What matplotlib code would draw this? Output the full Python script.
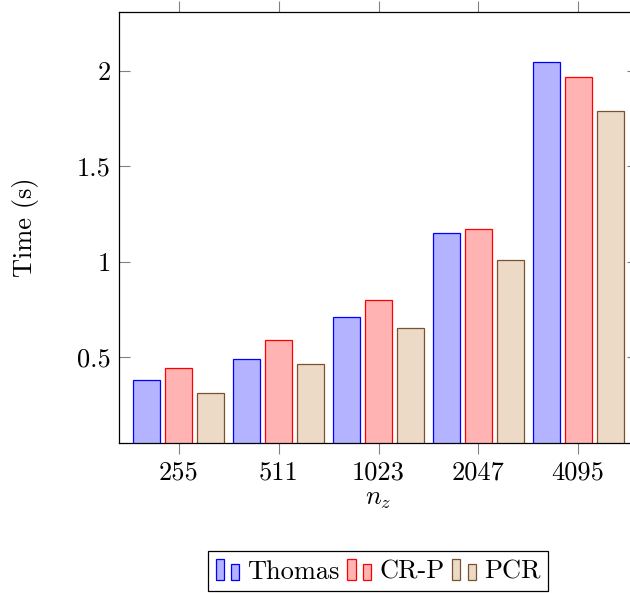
import numpy as np
import matplotlib
matplotlib.use("Agg")
import matplotlib.pyplot as plt
from matplotlib.patches import Rectangle
from matplotlib.legend_handler import HandlerBase

plt.rcParams['font.family'] = 'serif'
plt.rcParams['font.serif'] = ['cmr10', 'DejaVu Serif']
plt.rcParams['mathtext.fontset'] = 'cm'
plt.rcParams['axes.unicode_minus'] = False
plt.rcParams['axes.formatter.use_mathtext'] = True

categories = ["255", "511", "1023", "2047", "4095"]
series_names = ["Thomas", "CR-P", "PCR"]
thomas = [0.38, 0.49, 0.71, 1.15, 2.05]
crp = [0.44, 0.59, 0.80, 1.17, 1.97]
pcr = [0.31, 0.46, 0.65, 1.01, 1.79]
ytick_vals = [0.5, 1.0, 1.5, 2.0]
ytick_labels = ["0.5", "1", "1.5", "2"]

facecolors = ["#b3b3ff", "#ffb3b3", "#ecd9c6"]
edgecolors = ["#0000ff", "#ff0000", "#7a5230"]

FS = 19

fig = plt.figure(figsize=(6.3, 5.93), dpi=100)
ax = fig.add_axes([119/630, 1-442.7/593, (638-119)/630, (442.7-12)/593])

x = np.arange(len(categories))
width = 0.27
offsets = [-0.32, 0.0, 0.32]
patches = []
for vals, off, fc, ec, name in zip([thomas, crp, pcr], offsets, facecolors, edgecolors, series_names):
    bc = ax.bar(x + off, vals, width, color=fc, edgecolor=ec, linewidth=0.9, label=name)
    patches.append(bc.patches[0])

ax.set_xlim(-0.6, 4.6)
ax.set_ylim(0.049, 2.31)
ax.set_xticks(x)
ax.set_xticklabels(categories)
ax.set_yticks(ytick_vals)
ax.set_yticklabels(ytick_labels)
ax.tick_params(axis='x', direction='out', top=True, bottom=True, length=8, width=0.8,
               color='#808080', labelsize=FS, pad=5)
ax.tick_params(axis='y', direction='in', left=True, right=True, length=8, width=0.8,
               color='#808080', labelsize=FS, pad=6)
for s in ax.spines.values():
    s.set_linewidth(0.9)
    s.set_color('black')

ax.set_xlabel("$n_z$", fontsize=FS, labelpad=2)
ax.set_ylabel("Time (s)", fontsize=FS)
ax.yaxis.set_label_coords(-80/519, 0.5)


class TwoBarHandler(HandlerBase):
    def create_artists(self, legend, orig_handle, xdescent, ydescent, width, height,
                       fontsize, trans):
        fc = orig_handle.get_facecolor()
        ec = orig_handle.get_edgecolor()
        bw = width * 0.34
        r1 = Rectangle((-xdescent, -ydescent), bw, height, facecolor=fc, edgecolor=ec,
                       linewidth=0.9, transform=trans)
        r2 = Rectangle((-xdescent + width - bw, -ydescent), bw, height * 0.77,
                       facecolor=fc, edgecolor=ec, linewidth=0.9, transform=trans)
        return [r1, r2]


leg = fig.legend(patches, series_names, loc='upper center', bbox_to_anchor=(378/630, 1-551/593),
                 ncol=3, fontsize=FS, frameon=True, fancybox=False, framealpha=1,
                 edgecolor='black', handlelength=0.9, handleheight=0.85, handletextpad=0.3,
                 columnspacing=0.3, borderpad=0.3, borderaxespad=0,
                 handler_map={Rectangle: TwoBarHandler()})
leg.get_frame().set_linewidth(0.9)

fig.savefig("out.png", dpi=100)
